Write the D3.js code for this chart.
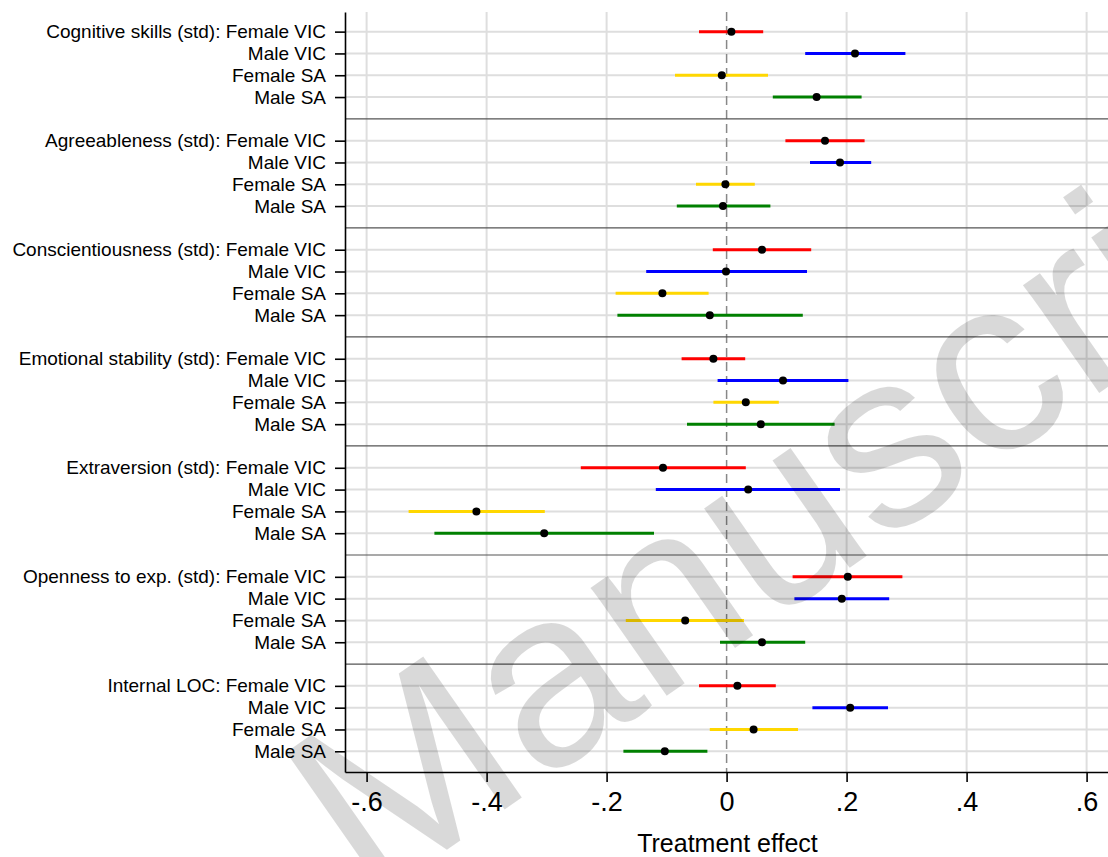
<!DOCTYPE html>
<html><head><meta charset="utf-8">
<script src="https://cdn.jsdelivr.net/npm/d3@7"></script>
<style>body{margin:0;background:#fff;} svg{display:block;font-family:Arial,"Liberation Sans",sans-serif;}</style>
</head><body><svg id="chart" width="1108" height="857"></svg>
<script>
const outcomes = ["Cognitive skills (std)", "Agreeableness (std)", "Conscientiousness (std)", "Emotional stability (std)", "Extraversion (std)", "Openness to exp. (std)", "Internal LOC"];
const subgroups = ["Female VIC", "Male VIC", "Female SA", "Male SA"];
const seriesColors = ["#ff0000", "#0000ff", "#ffd700", "#008000"];
const estimates = [
  [0.008, 0.214, -0.008, 0.150],
  [0.164, 0.189, -0.002, -0.006],
  [0.059, -0.001, -0.107, -0.028],
  [-0.022, 0.094, 0.032, 0.057],
  [-0.106, 0.036, -0.417, -0.304],
  [0.202, 0.192, -0.069, 0.059],
  [0.018, 0.206, 0.045, -0.103]
];
const lowerCI = [
  [-0.046, 0.131, -0.086, 0.077],
  [0.098, 0.139, -0.051, -0.083],
  [-0.023, -0.134, -0.185, -0.182],
  [-0.075, -0.015, -0.022, -0.066],
  [-0.243, -0.118, -0.530, -0.487],
  [0.110, 0.113, -0.168, -0.011],
  [-0.046, 0.143, -0.028, -0.172]
];
const upperCI = [
  [0.061, 0.298, 0.069, 0.225],
  [0.230, 0.241, 0.047, 0.073],
  [0.141, 0.134, -0.030, 0.127],
  [0.031, 0.203, 0.087, 0.180],
  [0.032, 0.189, -0.303, -0.121],
  [0.293, 0.271, 0.029, 0.131],
  [0.082, 0.269, 0.119, -0.032]
];
const xTickValues = [-0.6, -0.4, -0.2, 0, 0.2, 0.4, 0.6];
const xTickLabels = ["-.6", "-.4", "-.2", "0", ".2", ".4", ".6"];
const xTitle = "Treatment effect";
const watermarkText = "Manuscript";

const svg = d3.select("#chart");
const plot = {left: 345, right: 1110, top: 12, bottom: 772};
const x = d3.scaleLinear().domain([-0.636, 0.639]).range([plot.left, plot.right]);
const y = d3.scaleLinear().domain([-0.9, 33.95]).range([plot.top, plot.bottom]);
const slotsPerGroup = subgroups.length + 1;

const rows = [];
outcomes.forEach((o, g) => subgroups.forEach((s, r) => rows.push({
  slot: g * slotsPerGroup + r,
  label: r === 0 ? o + ": " + s : s,
  est: estimates[g][r], lo: lowerCI[g][r], hi: upperCI[g][r], color: seriesColors[r]
})));
const separators = d3.range(outcomes.length - 1).map(g => g * slotsPerGroup + subgroups.length);

// vertical gridlines
svg.append("g").selectAll("line").data(xTickValues.filter(v => v !== 0)).join("line")
  .attr("x1", d => x(d)).attr("x2", d => x(d)).attr("y1", plot.top).attr("y2", plot.bottom)
  .attr("stroke", "#dedede").attr("stroke-width", 2);
// horizontal gridlines
svg.append("g").selectAll("line").data(rows).join("line")
  .attr("x1", plot.left).attr("x2", plot.right).attr("y1", d => y(d.slot)).attr("y2", d => y(d.slot))
  .attr("stroke", "#dedede").attr("stroke-width", 2);
// zero line
svg.append("line").attr("x1", x(0)).attr("x2", x(0)).attr("y1", plot.top).attr("y2", plot.bottom)
  .attr("stroke", "#888").attr("stroke-width", 1.5).attr("stroke-dasharray", "9,5");
// separators
svg.append("g").selectAll("line").data(separators).join("line")
  .attr("x1", plot.left).attr("x2", plot.right).attr("y1", d => y(d)).attr("y2", d => y(d))
  .attr("stroke", "#555").attr("stroke-width", 1.2);
// CIs
svg.append("g").selectAll("line").data(rows).join("line")
  .attr("x1", d => x(d.lo)).attr("x2", d => x(d.hi)).attr("y1", d => y(d.slot)).attr("y2", d => y(d.slot))
  .attr("stroke", d => d.color).attr("stroke-width", 3);
// points
svg.append("g").selectAll("circle").data(rows).join("circle")
  .attr("cx", d => x(d.est)).attr("cy", d => y(d.slot)).attr("r", 4).attr("fill", "#000");

// left axis
const yAxis = d3.axisLeft(y).tickValues(rows.map(d => d.slot))
  .tickFormat((d, i) => rows[i].label).tickSize(10).tickSizeOuter(0).tickPadding(9);
const gy = svg.append("g").attr("transform", `translate(${plot.left},0)`).call(yAxis);
gy.select(".domain").attr("stroke", "#000").attr("stroke-width", 1.6);
gy.selectAll(".tick line").attr("stroke", "#000").attr("stroke-width", 1.6);
gy.selectAll(".tick text").attr("font-size", "19px").attr("fill", "#000").attr("font-family", "Arial, 'Liberation Sans', sans-serif");

// bottom axis
const xAxis = d3.axisBottom(x).tickValues(xTickValues).tickFormat((d, i) => xTickLabels[i])
  .tickSize(10).tickSizeOuter(0).tickPadding(10);
const gx = svg.append("g").attr("transform", `translate(0,${plot.bottom})`).call(xAxis);
gx.select(".domain").attr("stroke", "#000").attr("stroke-width", 1.6);
gx.selectAll(".tick line").attr("stroke", "#000").attr("stroke-width", 1.6);
gx.selectAll(".tick text").attr("font-size", "27px").attr("fill", "#000").attr("font-family", "Arial, 'Liberation Sans', sans-serif");

svg.append("text").attr("x", 727.5).attr("y", 851.5).attr("text-anchor", "middle")
  .attr("font-size", "25px").attr("fill", "#000").text(xTitle);

// watermark
svg.append("text").attr("transform", "translate(368,905) rotate(-35)")
  .attr("font-size", "250px").attr("fill", "#000").attr("fill-opacity", 0.15).text(watermarkText);
</script></body></html>
